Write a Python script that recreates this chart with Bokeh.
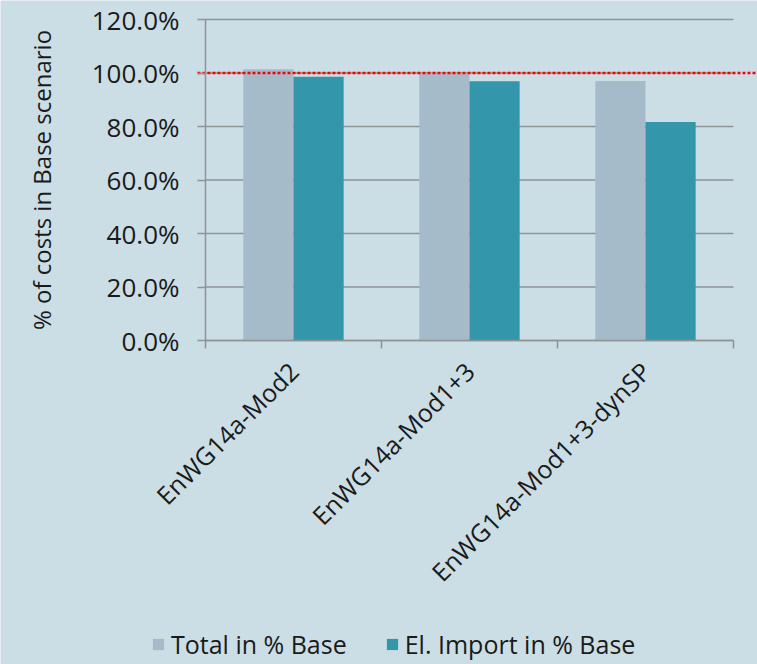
import math
from bokeh.plotting import figure
from bokeh.models import (ColumnDataSource, Range1d, FixedTicker, NumeralTickFormatter,
                          Legend, LegendItem)
from bokeh.transform import dodge
from bokeh.embed import file_html
from bokeh.resources import INLINE

# ---- data ----
categories = ["EnWG14a-Mod2", "EnWG14a-Mod1+3", "EnWG14a-Mod1+3-dynSP"]
total_pct = [1.014, 0.999, 0.970]
import_pct = [0.986, 0.969, 0.817]
series_names = ["Total in % Base", "El. Import in % Base"]
y_ticks = [0.0, 0.2, 0.4, 0.6, 0.8, 1.0, 1.2]
reference_level = 1.0

BG = "#cbdee5"
GRAY = "#a5bbc9"
TEAL = "#3396ab"
AXIS = "#8e9396"
FONT = "Open Sans"

W, H = 757, 664
AX_X, AX_Y, TOP_Y = 205, 340, 19          # pixel positions of axes / top of value range
CAT_PX = 176                               # pixels per category
VAL_PX = (AX_Y - TOP_Y) / 1.2              # pixels per 100%

xpos = [i + 0.5 for i in range(len(categories))]
src = ColumnDataSource(dict(x=xpos, cat=categories, total=total_pct, imp=import_pct))

p = figure(width=W, height=H, output_backend="svg", toolbar_location=None,
           x_range=Range1d(-AX_X / CAT_PX, (W - AX_X) / CAT_PX),
           y_range=Range1d(-(H - AX_Y) / VAL_PX, 1.2 + TOP_Y / VAL_PX),
           min_border=0)
p.background_fill_color = BG
p.border_fill_color = BG
p.outline_line_color = None
p.xgrid.visible = False
p.ygrid.visible = False

# horizontal gridlines ending at the last category boundary
p.segment(x0=[0] * len(y_ticks), x1=[len(categories)] * len(y_ticks), y0=y_ticks, y1=y_ticks,
          line_color=AXIS, line_width=1.5, level="underlay")

bw = 0.285
r1 = p.vbar(x=dodge("x", -bw / 2), top="total", width=bw, source=src,
            fill_color=GRAY, line_color=None)
r2 = p.vbar(x=dodge("x", bw / 2), top="imp", width=bw, source=src,
            fill_color=TEAL, line_color=None)

# red dotted reference line (starts at the tick marks, runs to the right edge)
p.segment(x0=[-8 / CAT_PX], x1=[(W - AX_X) / CAT_PX], y0=[reference_level], y1=[reference_level],
          line_color="#ff0000", line_width=2.5, line_dash="3 2")

# y axis
ya = p.yaxis[0]
ya.fixed_location = 0
ya.bounds = (0, 1.2)
ya.ticker = FixedTicker(ticks=y_ticks)
ya.formatter = NumeralTickFormatter(format="0.0%")
ya.axis_line_color = AXIS
ya.axis_line_width = 1.5
ya.major_tick_line_color = AXIS
ya.major_tick_line_width = 1.5
ya.major_tick_out = 8
ya.major_tick_in = 0
ya.minor_tick_line_color = None
ya.major_label_standoff = 18
ya.major_label_text_font = FONT
ya.major_label_text_font_size = "26px"
ya.major_label_text_color = "#1a1a1a"
ya.axis_label = "% of costs in Base scenario"
ya.axis_label_text_font = FONT
ya.axis_label_text_font_size = "24px"
ya.axis_label_text_font_style = "normal"
ya.axis_label_text_color = "#1a1a1a"
ya.axis_label_standoff = 31

# x axis
xa = p.xaxis[0]
xa.fixed_location = 0
xa.ticker = FixedTicker(ticks=xpos, minor_ticks=list(range(len(categories) + 1)))
overrides = {}
for xv, c in zip(xpos, categories):
    overrides[xv] = c
    overrides[str(xv)] = c
xa.major_label_overrides = overrides
xa.bounds = (0, len(categories))
xa.axis_line_color = AXIS
xa.axis_line_width = 1.5
xa.major_tick_line_color = None
xa.minor_tick_line_color = AXIS
xa.minor_tick_line_width = 1.5
xa.minor_tick_out = 8
xa.minor_tick_in = 0
xa.major_label_orientation = math.pi / 4
xa.major_label_standoff = 18
xa.major_label_text_font = FONT
xa.major_label_text_font_size = "25px"
xa.major_label_text_color = "#1a1a1a"

legend = Legend(items=[LegendItem(label=series_names[0], renderers=[r1]),
                       LegendItem(label=series_names[1], renderers=[r2])],
                orientation="horizontal", location=(151, 3),
                background_fill_alpha=0, border_line_color=None,
                glyph_width=14, glyph_height=14, label_standoff=6, spacing=38,
                padding=0, margin=0,
                label_text_font=FONT, label_text_font_size="25px", label_text_color="#1a1a1a")
p.add_layout(legend, "center")

open("out.html", "w").write(file_html(p, INLINE))
